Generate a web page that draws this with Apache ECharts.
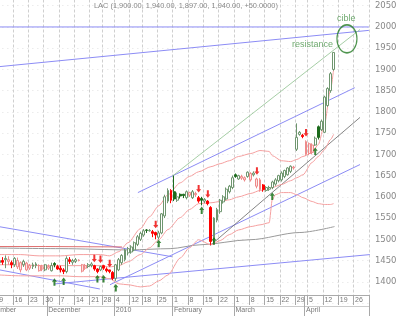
<!DOCTYPE html>
<html><head><meta charset="utf-8">
<script src="https://cdn.jsdelivr.net/npm/echarts@6/dist/echarts.min.js"></script>
<style>html,body{margin:0;padding:0;background:#fff}#c{width:400px;height:316px}</style>
</head><body><div id="c"></div>
<script>
// ---------- data ----------
const titleText = 'LAC (1,900.00, 1,940.00, 1,897.00, 1,940.00, +50.0000)';
const axisStart = '2009-11-02', axisEnd = '2010-04-30';
const holidays = ['2009-12-25', '2010-01-01', '2010-01-11', '2010-04-02'];
const firstCandle = '2009-11-09';
const monthNames = ['2010', 'February', 'March', 'April', 'May', 'June', 'July', 'August', 'September', 'October', 'November', 'December'];
const yMin = 1350, yMax = 2100, yStep = 50;

// open, close, low, high (daily, from 2009-11-09)
const ohlc = [
[1445,1450,1438,1455],[1450,1446,1440,1458],[1452,1455,1432,1462],[1448,1452,1440,1460],[1445,1440,1432,1450],
[1440,1455,1435,1458],[1435,1450,1430,1457],[1428,1445,1422,1448],[1440,1448,1435,1452],[1428,1444,1425,1447],
[1432,1438,1428,1442],[1436,1440,1430,1445],[1438,1442,1432,1446],[1426,1438,1424,1441],[1430,1435,1425,1440],
[1428,1440,1425,1442],[1432,1436,1428,1441],[1426,1438,1424,1445],[1443,1440,1434,1446],[1436,1430,1428,1440],
[1432,1428,1422,1438],[1428,1424,1418,1432],[1424,1455,1420,1460],[1452,1448,1442,1458],[1446,1450,1440,1454],
[1448,1452,1444,1456],[1450,1451,1448,1453],[1425,1440,1422,1442],[1432,1438,1428,1442],[1436,1440,1432,1444],
[1438,1442,1434,1446],[1438,1430,1426,1440],[1430,1424,1420,1432],[1428,1436,1425,1438],[1438,1432,1428,1440],
[1430,1426,1422,1434],[1428,1424,1420,1428],[1422,1408,1404,1425],[1408,1440,1402,1442],[1428,1452,1425,1456],
[1445,1462,1440,1465],[1452,1475,1448,1478],[1468,1478,1462,1482],[1470,1482,1466,1486],[1475,1492,1472,1495],
[1488,1506,1484,1510],[1500,1514,1496,1518],[1510,1520,1506,1524],[1522,1521,1515,1524],[1520,1521,1518,1524],
[1518,1514,1505,1522],[1516,1510,1500,1518],[1505,1515,1500,1520],[1515,1560,1512,1562],[1555,1600,1550,1605],
[1590,1615,1585,1620],[1615,1592,1585,1618],[1612,1595,1590,1650],[1592,1600,1588,1610],[1606,1602,1596,1608],
[1606,1603,1597,1607],[1598,1612,1594,1615],[1604,1610,1600,1612],[1598,1612,1595,1616],[1605,1608,1600,1612],
[1598,1590,1586,1602],[1596,1592,1580,1600],[1590,1594,1585,1597],[1590,1584,1580,1592],[1575,1495,1487,1578],
[1500,1550,1492,1552],[1545,1570,1540,1574],[1565,1592,1560,1595],[1588,1600,1584,1604],[1595,1618,1592,1622],
[1612,1625,1608,1628],[1622,1645,1618,1650],[1652,1648,1645,1655],[1642,1650,1640,1652],[1644,1648,1640,1652],
[1640,1645,1636,1648],[1648,1658,1645,1660],[1640,1655,1636,1658],[1652,1656,1648,1660],[1625,1642,1620,1645],
[1617,1640,1612,1644],[1628,1617,1612,1630],[1615,1622,1612,1625],[1618,1622,1614,1626],[1622,1635,1618,1638],
[1630,1640,1626,1644],[1638,1650,1634,1652],[1640,1656,1636,1660],[1648,1662,1644,1664],[1652,1668,1650,1670],
[1660,1672,1656,1674],[1668,1670,1664,1673],[1712,1740,1708,1773],[1747,1752,1744,1755],[1745,1742,1738,1748],
[1700,1730,1697,1733],[1702,1725,1698,1728],[1705,1722,1700,1726],[1722,1738,1720,1742],[1765,1740,1735,1768],
[1758,1778,1755,1782],[1752,1835,1750,1838],[1815,1855,1812,1858],[1850,1890,1845,1894],[1900,1940,1897,1940]
];

// Bollinger bands: [axis index, value]
const bandUpper = [[5,1464],[12,1464],[18,1461],[25,1461],[31,1464],[38,1464],[41,1461],[44,1471],[47,1492],[51,1525],[54,1553],[57,1579],[60,1605],[64,1633],[67,1648],[70,1659],[74,1671],[77,1678],[80,1685],[83,1695],[87,1702],[90,1709],[93,1707],[94,1697],[97,1685],[100,1683],[102,1688],[104,1695],[107,1704],[109,1723],[111,1770],[113,1853],[114,1900]];
const bandMiddle = [[5,1440],[12,1440],[18,1438],[25,1438],[31,1438],[38,1438],[41,1435],[44,1438],[47,1447],[51,1464],[54,1480],[57,1499],[60,1523],[64,1551],[67,1570],[70,1584],[74,1586],[77,1589],[80,1593],[83,1600],[87,1608],[90,1615],[93,1619],[94,1622],[97,1629],[100,1638],[102,1645],[104,1652],[107,1681],[109,1695],[111,1711],[113,1735],[114,1747]];
const bandLower = [[5,1416],[12,1414],[18,1414],[25,1414],[31,1412],[38,1412],[41,1407],[44,1395],[47,1393],[51,1388],[54,1390],[57,1402],[60,1416],[64,1456],[67,1480],[70,1499],[74,1487],[77,1497],[80,1511],[83,1522],[87,1530],[90,1534],[93,1539],[94,1593],[95,1605],[97,1610],[100,1610],[102,1605],[104,1598],[107,1589],[109,1584],[111,1582],[113,1582],[114,1584]];
const redAverage = [[0,1483],[20,1483],[45,1482]];
const grayAverage = [[0,1480],[24.8,1478],[47.6,1475],[60.7,1478],[70.4,1487],[86.7,1499],[103,1516],[114.3,1530]];

// trend lines: two end points each [axis index, value]
const blueLines = [
  [[-0.5,2000],[125.5,2000]],
  [[0,1903],[125.5,1992]],
  [[50.2,1610],[120.9,1857]],
  [[41.1,1393],[122.6,1676]],
  [[0,1536],[61.3,1459]],
  [[0,1435],[37.8,1383]],
  [[23.2,1395],[125.8,1464]]
];
const greenLine = [[61.3,1648],[122.6,1994]];
const darkLine = [[73.7,1485],[122.6,1787]];

// signals: [axis index, arrow tip value]
const buySignals = [[23,1408],[26,1410],[37,1416],[39,1416],[43,1395],[57,1499],[71,1577],[75,1505],[94,1610],[108,1716]];
const sellSignals = [[36,1446],[38,1444],[41,1434],[56,1526],[70,1610],[73,1598],[89,1652],[105,1742]];

const targetEllipse = [[118.35,1972]];
const notes = [{text:'cible', at:[118.1,2021]}, {text:'resistance', at:[107.1,1959]}];

// ---------- categories ----------
function fmt(d){return d.toISOString().slice(0,10);}
const cats = [];
for (let d = new Date(axisStart+'T00:00:00Z'); d <= new Date(axisEnd+'T00:00:00Z'); d.setUTCDate(d.getUTCDate()+1)) {
  const wd = d.getUTCDay(), s = fmt(d);
  if (wd === 0 || wd === 6 || holidays.includes(s)) continue;
  cats.push(s);
}
const N = cats.length;
function mondayOf(s){const d=new Date(s+'T00:00:00Z');const wd=d.getUTCDay();d.setUTCDate(d.getUTCDate()-(wd-1));return fmt(d);}
const weekStart = cats.map((s,i)=> i===0 || mondayOf(s)!==mondayOf(cats[i-1]));
const monthStart = cats.map((s,i)=> i===0 || s.slice(0,7)!==cats[i-1].slice(0,7));
function monthLabel(s){const m=+s.slice(5,7);return m===1?s.slice(0,4):monthNames[m-1];}

// ---------- candles ----------
const col = {hg:'#6f966f', fg:'#1c6b1c', hr:'#ee8a8a', hrFill:'#fde6e6', fr:'#ff0000'};
const off = cats.indexOf(firstCandle);
const candleData = cats.map(()=>'-');
ohlc.forEach((d,i)=>{
  const prev = i>0 ? ohlc[i-1][1] : d[0];
  const up = d[1] >= prev, hollow = d[1] >= d[0];
  let fill, border;
  if (hollow) { border = up ? col.hg : col.hr; fill = up ? '#ffffff' : col.hrFill; }
  else { border = fill = up ? col.fg : col.fr; }
  candleData[off+i] = {value:d, itemStyle:{color:fill,color0:fill,borderColor:border,borderColor0:border,borderColorDoji:border}};
});

const lineS = (data, color, width, extra) => Object.assign({
  type:'line', xAxisIndex:3, yAxisIndex:0, data, showSymbol:false, symbol:'none', silent:true,
  lineStyle:{color, width}, z:2
}, extra||{});

const series = [];
blueLines.forEach(l=>series.push(lineS(l,'#8c8cf5',1)));
series.push(lineS(greenLine,'#9cc89c',0.9));
series.push(lineS(darkLine,'#777777',0.9));
series.push(lineS(grayAverage,'#9a9a9a',1,{smooth:0.3,smoothMonotone:'x'}));
series.push(lineS(redAverage,'#e07070',1));
[bandUpper,bandMiddle,bandLower].forEach(b=>series.push(lineS(b,'#f5a0a0',1,{smooth:0.25,smoothMonotone:'x'})));
series.push({type:'candlestick', xAxisIndex:0, yAxisIndex:0, data:candleData, barWidth:2.4, z:5,
  itemStyle:{borderWidth:1}, silent:true});
series.push({type:'scatter', xAxisIndex:3, yAxisIndex:0, data:buySignals, z:8, silent:true,
  symbol:'path://M3 0L6 3.5L4.2 3.5L4.2 8L1.8 8L1.8 3.5L0 3.5Z', symbolSize:[5,7.5], symbolOffset:[0,3.75],
  itemStyle:{color:'#0b6a0b'}});
series.push({type:'scatter', xAxisIndex:3, yAxisIndex:0, data:sellSignals, z:8, silent:true,
  symbol:'path://M3 8L6 4.5L4.2 4.5L4.2 0L1.8 0L1.8 4.5L0 4.5Z', symbolSize:[5,7.5], symbolOffset:[0,-3.75],
  itemStyle:{color:'#ee0000'}});
series.push({type:'scatter', xAxisIndex:3, yAxisIndex:0, data:targetEllipse, z:9, silent:true,
  symbol:'circle', symbolSize:[20,28], itemStyle:{color:'rgba(0,0,0,0)', borderColor:'#237a23', borderWidth:1.4}});
series.push({type:'scatter', xAxisIndex:3, yAxisIndex:0, z:9, silent:true, symbolSize:0,
  data:notes.map(n=>({value:n.at, name:n.text})),
  label:{show:true, position:'inside', formatter:p=>p.name, color:'#4a944a', fontSize:9, fontFamily:'Liberation Sans, Arial, sans-serif'}});

const option = {
  animation:false,
  backgroundColor:'#ffffff',
  title:{text:titleText, left:94, top:2, padding:0,
    textStyle:{fontSize:7.4, color:'#888', fontWeight:'normal', fontFamily:'Liberation Sans, Arial, sans-serif'}},
  grid:{left:-17.64, right:31.1, top:-15.5, bottom:13, containLabel:false, outerBoundsMode:'none'},
  xAxis:[
    {type:'category', data:cats, gridIndex:0, position:'bottom', offset:-8, boundaryGap:true,
     axisLine:{show:true, lineStyle:{color:'#aaaaaa'}},
     axisTick:{show:true, interval:(i)=>weekStart[i], length:10, lineStyle:{color:'#a8a8a8'}},
     axisLabel:{show:true, interval:(i)=>weekStart[i], formatter:(v)=>String(+v.slice(8)), align:'left', margin:2,
       fontSize:7, color:'#777', fontFamily:'Liberation Sans, Arial, sans-serif'},
     splitLine:{show:true, interval:(i)=>weekStart[i], lineStyle:{color:'#cfcfcf', type:[3,2], width:1}}},
    {type:'category', data:cats, gridIndex:0, position:'bottom', offset:-8, boundaryGap:true,
     axisLine:{show:false},
     axisTick:{show:true, interval:(i)=>monthStart[i], length:21, lineStyle:{color:'#a8a8a8'}},
     axisLabel:{show:true, interval:(i)=>monthStart[i], formatter:(v)=>monthLabel(v), align:'left', margin:12,
       fontSize:7, color:'#777', fontFamily:'Liberation Sans, Arial, sans-serif'},
     splitLine:{show:false}},
    {type:'category', data:cats, gridIndex:0, position:'bottom', offset:3, boundaryGap:true,
     axisLine:{show:true, lineStyle:{color:'#cccccc'}}, axisTick:{show:false}, axisLabel:{show:false}, splitLine:{show:false}},
    {type:'value', gridIndex:0, min:-0.5, max:N-0.5, show:false, splitLine:{show:false}}
  ],
  yAxis:[{type:'value', position:'right', min:yMin, max:yMax, interval:yStep, scale:true,
    axisLine:{show:true, lineStyle:{color:'#aaaaaa'}},
    axisTick:{show:true, length:4, inside:false, lineStyle:{color:'#999'}},
    minorTick:{show:true, splitNumber:5, length:2, lineStyle:{color:'#aaa'}},
    axisLabel:{margin:6, fontSize:8.5, color:'#888', fontFamily:'DejaVu Sans, sans-serif', showMinLabel:false, showMaxLabel:false,
      formatter:(v)=>String(v)},
    splitLine:{show:true, lineStyle:{color:'#e2e2e2', type:[1,4]}}}],
  series
};
const chart = echarts.init(document.getElementById('c'), null, {renderer:'canvas'});
chart.setOption(option);
</script></body></html>
